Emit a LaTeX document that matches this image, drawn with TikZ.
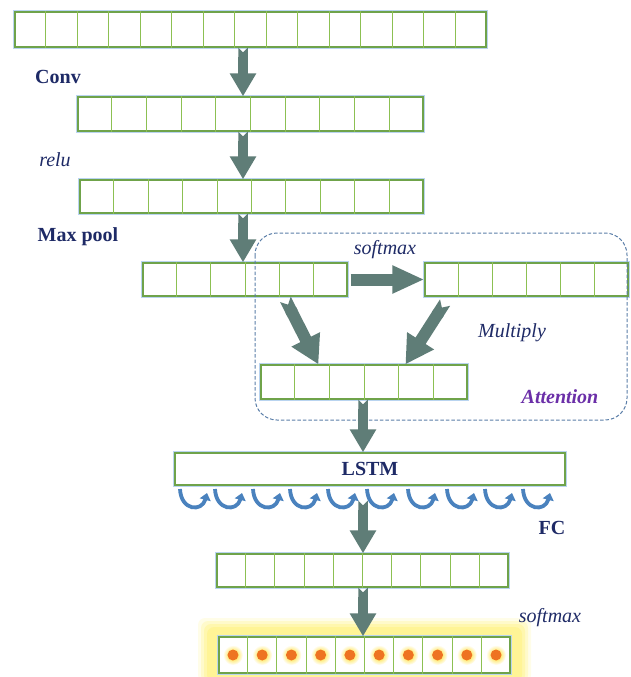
\documentclass[tikz,border=0pt]{standalone}
\usepackage{fontspec}
\setmainfont{Liberation Serif}
\usetikzlibrary{arrows.meta,calc}

\definecolor{cellgreen}{HTML}{8CC052}
\definecolor{edgegreen}{HTML}{6FA34A}
\definecolor{glowblue}{HTML}{B9D4F0}
\definecolor{navy}{HTML}{1E2A66}
\definecolor{arrowgray}{HTML}{5F7D77}
\definecolor{dashblue}{HTML}{5A7EA8}
\definecolor{loopblue}{HTML}{4A82BE}
\definecolor{attpurple}{HTML}{6B2FA8}
\definecolor{dotorange}{HTML}{EE7322}
\definecolor{glowyellow}{HTML}{FFF38A}

\tikzset{
  rowbox/.style={draw=edgegreen, line width=1.3pt, fill=white, inner sep=0pt,
    preaction={draw=glowblue, line width=4.5pt}},
  celldiv/.style={draw=cellgreen, line width=1pt},
  flow/.style={draw=arrowgray, line width=9.5pt,
    {Triangle Cap[reversed]}-{Triangle[width=25pt,length=23pt]}},
  wideflow/.style={draw=arrowgray, line width=12pt,
    {Triangle Cap[reversed]}-{Triangle[width=30pt,length=28pt]}},
  lbl/.style={text=navy, font=\fontsize{20}{24}\selectfont},
  loop/.style={draw=loopblue, line width=3.8pt, -{Triangle[width=11pt,length=7pt]}},
  attbox/.style={draw=dashblue, line width=1pt, dash pattern=on 3.5pt off 2pt, rounded corners=22pt},
}

% a row of n equal cells: name, left, top, right, bottom, n
\newcommand\cellrow[6]{%
  \node[rowbox, minimum width={(#4-#2)*1pt}, minimum height={(#5-#3)*1pt}]
    (#1) at ({(#2+#4)/2},{(#3+#5)/2}) {};
  \pgfmathtruncatemacro\lastdiv{#6-1}%
  \foreach \k in {1,...,\lastdiv}
    \draw[celldiv] ($(#1.north west)!{\k/#6}!(#1.north east)$) --
                   ($(#1.south west)!{\k/#6}!(#1.south east)$);
}

\begin{document}
\begin{tikzpicture}[x=1pt, y=-1pt]
\useasboundingbox (0,0) rectangle (630,677);

% yellow glow behind the output row
\foreach \g/\op in {9/0.2,6/0.3,3/0.45,0/0.65}
  \fill[glowyellow, opacity=\op, rounded corners=7pt] (207-\g,627-\g) rectangle (522+\g,682);

% feature rows
\cellrow{inrow}{15}{12}{486}{47}{15}
\cellrow{conv}{78}{97}{423}{131}{10}
\cellrow{relu}{80}{180}{423}{213}{10}
\cellrow{pool}{143}{263}{347}{296}{6}
\cellrow{soft}{425}{263}{628}{296}{6}
\cellrow{att}{261}{365}{467}{399}{6}
\node[rowbox, minimum width=390pt, minimum height=32pt,
      font=\bfseries\fontsize{20}{24}\selectfont, text=navy] (lstm) at (370,469) {LSTM};
\cellrow{fc}{217}{554}{508}{587}{10}
\cellrow{out}{219}{637}{510}{673}{10}

% output units
\foreach \k in {0,...,9} {
  \coordinate (u\k) at ($(out.west)!{(\k+0.5)/10}!(out.east)$);
  \shade[inner color=yellow!70!orange, outer color=white] (u\k) circle (10);
  \fill[dotorange] (u\k) circle (5.5);
}

% attention block outline
\draw[attbox] (255,233) rectangle (627,420);

% recurrent loops under the LSTM
\foreach \lx in {180,215,253,290,328,367,408,447,485,523}
  \draw[loop] (\lx,489) .. controls (\lx+1,511) and (\lx+22,512) .. (\lx+27,493);

% data flow
\coordinate (ax) at (243,0);
\coordinate (bx) at (363,0);
\draw[flow] (inrow.south -| ax) -- (conv.north -| ax);
\draw[flow] (conv.south -| ax) -- (relu.north -| ax);
\draw[flow] (relu.south -| ax) -- (pool.north -| ax);
\draw[wideflow, shorten <=3pt, -{Triangle[width=26pt,length=32pt]}] (pool.east) -- (soft.west);
\draw[wideflow, shorten <=3pt] ($(pool.south west)!0.69!(pool.south east)$) --
                               ($(att.north west)!0.28!(att.north east)$);
\draw[wideflow, shorten <=7pt] ($(soft.south west)!0.12!(soft.south east)$) --
                               ($(att.north west)!0.7!(att.north east)$);
\draw[flow] (att.south -| bx) -- (lstm.north -| bx);
\draw[flow] ($(lstm.south -| bx)+(0,15)$) -- (fc.north -| bx);
\draw[flow] (fc.south -| bx) -- (out.north -| bx);

% labels
\node[lbl, font=\bfseries\fontsize{20}{24}\selectfont] (lconv) at (58,77) {Conv};
\node[lbl, font=\itshape\fontsize{20}{24}\selectfont] (lrelu) at (55,160) {relu};
\node[lbl, font=\bfseries\fontsize{20}{24}\selectfont] (lpool) at (78,237) {Max pool};
\node[lbl, font=\itshape\fontsize{20}{24}\selectfont] (lsoft) at (385,250) {softmax};
\node[lbl, font=\itshape\fontsize{20}{24}\selectfont] (lmul) at (512,333) {Multiply};
\node[lbl, text=attpurple, font=\bfseries\itshape\fontsize{20}{24}\selectfont] (latt) at (560,397) {Attention};
\node[lbl, font=\bfseries\fontsize{20}{24}\selectfont] (lfc) at (552,528) {FC};
\node[lbl, font=\itshape\fontsize{20}{24}\selectfont] (lsoft2) at (550,618) {softmax};
\end{tikzpicture}
\end{document}
